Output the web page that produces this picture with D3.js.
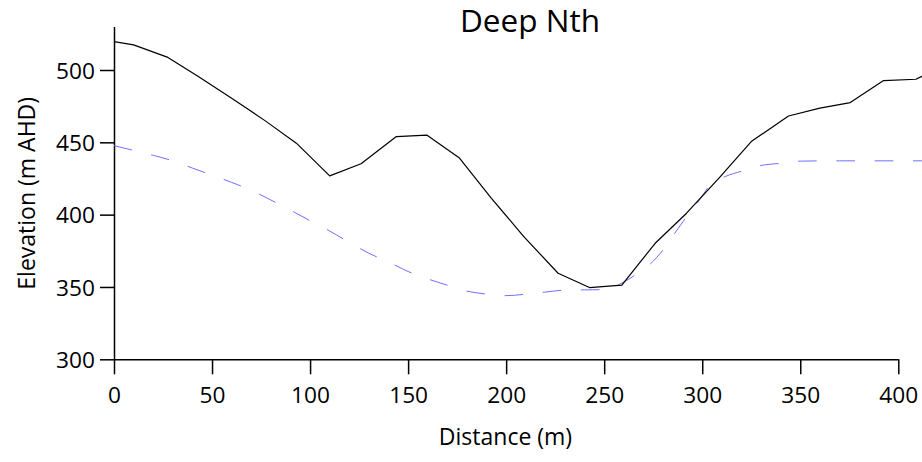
<!DOCTYPE html>
<html>
<head>
<meta charset="utf-8">
<script src="https://cdn.jsdelivr.net/npm/d3@7"></script>
<style>
  html, body { margin: 0; padding: 0; background: #fff; }
  svg { display: block; font-family: "Open Sans", sans-serif; }
</style>
</head>
<body>
<script>
// ground surface profile (solid black)
const groundDist = [0, 10, 27.5, 43, 60, 77, 93, 110, 126, 144, 159.5, 176, 192.5, 209, 226.5, 242.5, 259, 276, 292, 309, 325, 344, 360, 375.5, 392.5, 409, 420];
const groundElev = [519.6, 517.4, 508.7, 495.5, 480.5, 465, 449.4, 426.8, 435.2, 454, 455, 439.4, 411.3, 384.8, 359.5, 349.6, 351.3, 380.2, 401, 426, 450.5, 468.2, 473.6, 477.5, 492.7, 493.6, 501];

// dashed blue profile
const dashDist = [0, 10, 20, 30, 40, 50, 60, 70, 80, 90, 100, 110, 120, 130, 140, 150, 160, 170, 180, 190, 200, 210, 220, 230, 240, 250, 258, 265, 272, 280, 286, 292, 298, 304, 312, 320, 330, 340, 350, 370, 400, 420];
const dashElev = [447.7, 444.4, 441, 437.2, 432.2, 427.3, 422.3, 416.8, 410.1, 403.1, 395.8, 388.7, 380.8, 373.3, 367.3, 360.7, 355.6, 351.2, 347.1, 345.1, 344, 345, 346.5, 347.8, 348, 348.2, 352, 357.5, 364, 375.6, 387.1, 398.6, 409, 420.5, 426.5, 430, 434, 435.5, 437, 437.2, 437.2, 437.2];

const xTicks = [0, 50, 100, 150, 200, 250, 300, 350, 400];
const yTicks = [300, 350, 400, 450, 500];

const width = 922, height = 462;

const svg = d3.select("body").append("svg")
  .attr("width", width)
  .attr("height", height);

const x = d3.scaleLinear().domain([0, 400]).range([114, 898.3]);
const y = d3.scaleLinear().domain([300, 530]).range([359.3, 26.6]);

// axes
const xAxis = svg.append("g")
  .attr("transform", `translate(0,${y(300)})`)
  .call(d3.axisBottom(x).tickValues(xTicks).tickSize(15).tickSizeOuter(0));
xAxis.selectAll("text")
  .attr("y", 44).attr("dy", 0);

const yAxis = svg.append("g")
  .attr("transform", `translate(${x(0)},0)`)
  .call(d3.axisLeft(y).tickValues(yTicks).tickSize(14).tickSizeOuter(0));
yAxis.selectAll("text")
  .attr("x", -19).attr("dy", "0.36em");

svg.selectAll("g")
  .attr("font-family", null)
  .attr("font-size", null);
svg.selectAll(".tick text")
  .style("font-family", "'Open Sans', sans-serif")
  .style("font-size", "22.7px")
  .attr("fill", "#000");

svg.selectAll(".domain, .tick line")
  .attr("stroke", "#000")
  .attr("stroke-width", 1.5);

// lines
const dashLine = d3.line()
  .x((d, i) => x(dashDist[i]))
  .y(d => y(d))
  .curve(d3.curveMonotoneX);

svg.append("path")
  .datum(dashElev)
  .attr("d", dashLine)
  .attr("fill", "none")
  .attr("stroke", "#6f6fff")
  .attr("stroke-width", 1)
  .attr("stroke-dasharray", "18.5,19.8");

const groundLine = d3.line()
  .x((d, i) => x(groundDist[i]))
  .y(d => y(d));

svg.append("path")
  .datum(groundElev)
  .attr("d", groundLine)
  .attr("fill", "none")
  .attr("stroke", "#000")
  .attr("stroke-width", 1.2)
  .attr("stroke-linejoin", "round");

// titles
svg.append("text")
  .attr("x", 530).attr("y", 32)
  .attr("text-anchor", "middle")
  .style("font-size", "31.5px")
  .text("Deep Nth");

svg.append("text")
  .attr("x", 505.5).attr("y", 445)
  .attr("text-anchor", "middle")
  .style("font-size", "23px")
  .text("Distance (m)");

svg.append("text")
  .attr("transform", "translate(35,193.3) rotate(-90)")
  .attr("text-anchor", "middle")
  .style("font-size", "23px")
  .text("Elevation (m AHD)");
</script>
</body>
</html>
